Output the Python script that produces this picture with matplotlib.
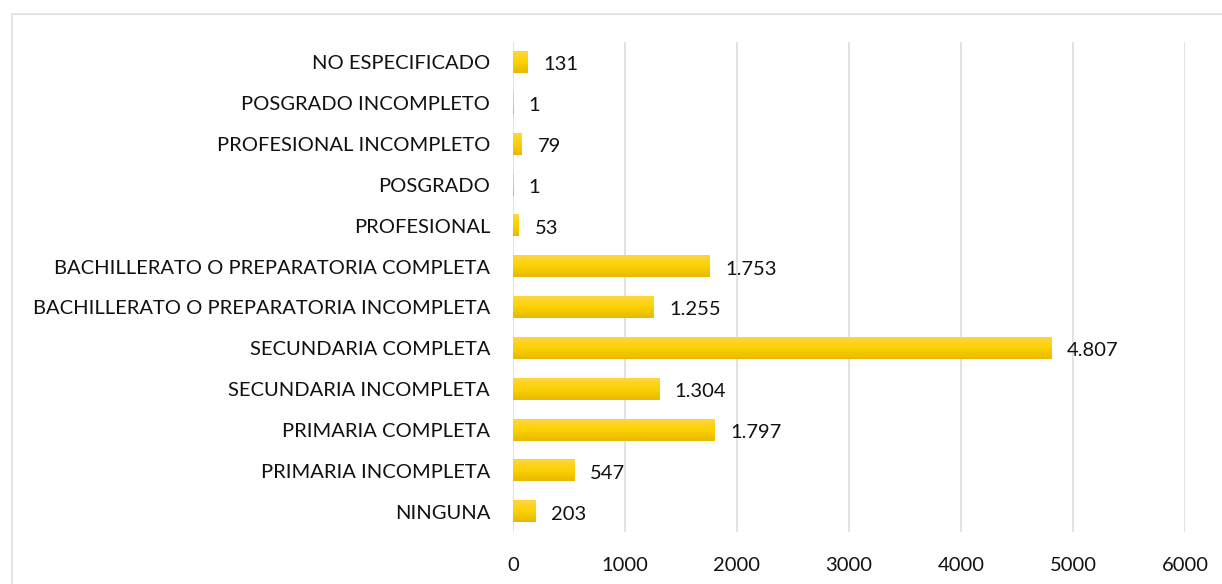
import matplotlib
matplotlib.use("Agg")
import matplotlib.pyplot as plt
from matplotlib.patches import Rectangle
from matplotlib.colors import LinearSegmentedColormap
import numpy as np

categories = ["NINGUNA", "PRIMARIA INCOMPLETA", "PRIMARIA COMPLETA", "SECUNDARIA INCOMPLETA",
              "SECUNDARIA COMPLETA", "BACHILLERATO O PREPARATORIA INCOMPLETA",
              "BACHILLERATO O PREPARATORIA COMPLETA", "PROFESIONAL", "POSGRADO",
              "PROFESIONAL INCOMPLETO", "POSGRADO INCOMPLETO", "NO ESPECIFICADO"]
values = [203, 547, 1797, 1304, 4807, 1255, 1753, 53, 1, 79, 1, 131]
xticks = [0, 1000, 2000, 3000, 4000, 5000, 6000]

plt.rcParams['font.family'] = ['Lato', 'DejaVu Sans']

W, H = 1222, 584
fig = plt.figure(figsize=(W / 100, H / 100), dpi=100)
fig.patch.set_facecolor('white')

# outer chart border
fig.add_artist(Rectangle((12 / W, -0.05), 1.1, 1 - 14 / H + 0.05, transform=fig.transFigure,
                         fill=False, edgecolor='#E3DED9', linewidth=1.2))

left, right = 513 / W, 1185 / W
top, bottom = 1 - 42 / H, 1 - 532 / H
ax = fig.add_axes([left, bottom, right - left, top - bottom])

n = len(categories)
ax.set_xlim(0, 6000)
ax.set_ylim(-0.5, n - 0.5)

cmap = LinearSegmentedColormap.from_list('g', ['#E8B800', '#FCD200', '#FFD540'])
grad = np.linspace(0, 1, 64).reshape(-1, 1)
bh = 0.52
fs = 14.5
for i, v in enumerate(values):
    if v <= 0:
        continue
    ax.imshow(grad, cmap=cmap, aspect='auto', origin='lower',
              extent=(0, v, i - bh / 2, i + bh / 2), zorder=2, interpolation='bicubic')
    ax.text(v + 140, i - 0.06, f"{v:,}".replace(",", "."), va='center', ha='left',
            fontsize=fs, color='#111111', zorder=3)

ax.set_xlim(0, 6000)
ax.set_ylim(-0.5, n - 0.5)
ax.set_xticks(xticks)
ax.set_xticklabels([str(t) for t in xticks])
ax.set_yticks(range(n))
ax.set_yticklabels(categories)
ax.tick_params(axis='both', length=0, labelsize=fs, colors='#111111')
ax.tick_params(axis='x', pad=18)
ax.tick_params(axis='y', pad=16.5)
for s in ax.spines.values():
    s.set_visible(False)
ax.grid(axis='x', color='#E3DED9', linewidth=1.3, zorder=0)
ax.set_axisbelow(True)

fig.savefig('out.png', dpi=100, facecolor='white')
